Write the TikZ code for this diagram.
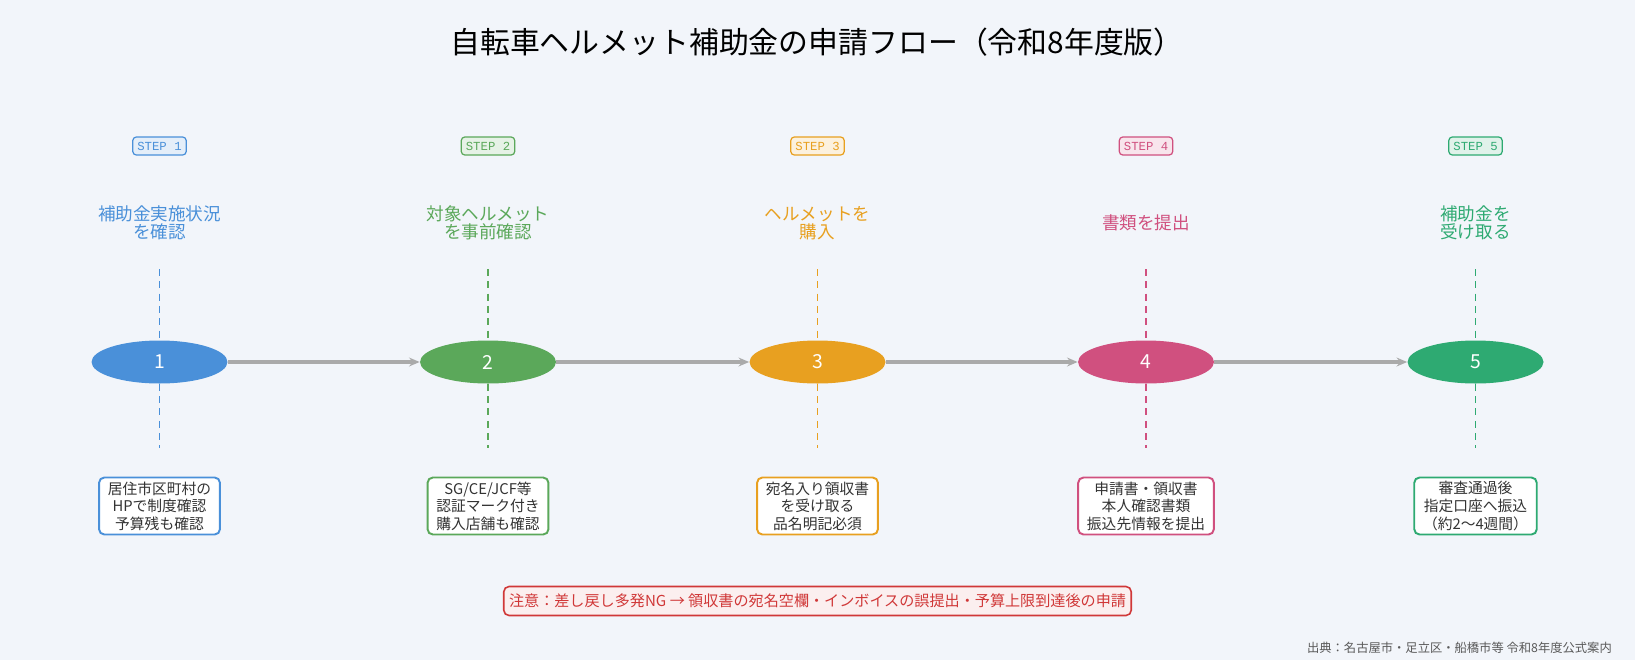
\documentclass[tikz,border=0pt]{standalone}
\usepackage{fontspec}
\setmainfont{Noto Sans CJK JP}
\newfontfamily\stepfont{Liberation Mono}
\usepackage{xcolor}
\definecolor{bgcol}{HTML}{F2F5FA}
\definecolor{stepblue}{HTML}{4A90D9}
\definecolor{stepgreen}{HTML}{5BA85A}
\definecolor{steporange}{HTML}{E8A020}
\definecolor{steppink}{HTML}{D0507F}
\definecolor{stepteal}{HTML}{2EAA72}
\definecolor{noteRed}{HTML}{D03838}
\definecolor{flowgray}{HTML}{AAAAAA}
\usetikzlibrary{
    arrows.meta,
    shapes.geometric,
    positioning
}
\tikzstyle{stepnode} = [
    ellipse,
    minimum width=2.72cm,
    minimum height=0.86cm,
    inner sep=0pt,
    text=white,
    font=\fontsize{11}{12}\selectfont
]
\tikzstyle{steptag} = [
    rectangle,
    rounded corners=2pt,
    line width=0.7pt,
    minimum height=0.36cm,
    inner xsep=2.6pt,
    inner ysep=0pt,
    font=\stepfont\fontsize{7}{8}\selectfont
]
\tikzstyle{steptitle} = [
    align=center,
    font=\fontsize{10}{10.3}\selectfont
]
\tikzstyle{detail} = [
    rectangle,
    rounded corners=3pt,
    line width=1.1pt,
    fill=white,
    align=center,
    minimum height=1.14cm,
    inner xsep=5pt,
    inner ysep=1pt,
    text=black!80,
    font=\fontsize{8.4}{10}\selectfont
]
\tikzstyle{guide} = [
    dashed,
    dash pattern=on 4pt off 3pt,
    line width=0.8pt
]
\tikzstyle{arrow} = [
    -{Stealth[length=6pt,width=5pt]},
    line width=1.8pt,
    draw=flowgray
]

\begin{document}
\begin{tikzpicture}[x=0.02cm, y=-0.02cm]
        % Canvas
        \fill[bgcol] (0,0) rectangle (1635,660);
        \useasboundingbox (0,0) rectangle (1635,660);

        % Title
        \node[font=\fontsize{17}{20}\selectfont] (title) at (817,42) {自転車ヘルメット補助金の申請フロー（令和8年度版）};

        % Steps
        \node[stepnode, fill=stepblue] (n1) at (159.5,362) {1};
        \node[stepnode, fill=stepgreen] (n2) at (488,362) {2};
        \node[stepnode, fill=steporange] (n3) at (817.5,362) {3};
        \node[stepnode, fill=steppink] (n4) at (1146,362) {4};
        \node[stepnode, fill=stepteal] (n5) at (1475.5,362) {5};

        % Tags
        \node[steptag, draw=stepblue, fill=stepblue!15, text=stepblue] (tag1) at (159.5,146) {STEP 1};
        \node[steptag, draw=stepgreen, fill=stepgreen!15, text=stepgreen] (tag2) at (488,146) {STEP 2};
        \node[steptag, draw=steporange, fill=steporange!15, text=steporange] (tag3) at (817.5,146) {STEP 3};
        \node[steptag, draw=steppink, fill=steppink!15, text=steppink] (tag4) at (1146,146) {STEP 4};
        \node[steptag, draw=stepteal, fill=stepteal!15, text=stepteal] (tag5) at (1475.5,146) {STEP 5};

        % Step titles
        \node[steptitle, text=stepblue] (head1) at (159.5,223) {補助金実施状況\\を確認};
        \node[steptitle, text=stepgreen] (head2) at (488,223) {対象ヘルメット\\を事前確認};
        \node[steptitle, text=steporange] (head3) at (817.5,223) {ヘルメットを\\購入};
        \node[steptitle, text=steppink] (head4) at (1146,223) {書類を提出};
        \node[steptitle, text=stepteal] (head5) at (1475.5,223) {補助金を\\受け取る};

        % Details
        \node[detail, draw=stepblue] (box1) at (159.5,506) {居住市区町村の\\HPで制度確認\\予算残も確認};
        \node[detail, draw=stepgreen] (box2) at (488,506) {SG/CE/JCF等\\認証マーク付き\\購入店舗も確認};
        \node[detail, draw=steporange] (box3) at (817.5,506) {宛名入り領収書\\を受け取る\\品名明記必須};
        \node[detail, draw=steppink] (box4) at (1146,506) {申請書・領収書\\本人確認書類\\振込先情報を提出};
        \node[detail, draw=stepteal] (box5) at (1475.5,506) {審査通過後\\指定口座へ振込\\（約2〜4週間）};

        % Guides
        \coordinate (up1) at (159.5,269);
        \coordinate (up2) at (488,269);
        \coordinate (up3) at (817.5,269);
        \coordinate (up4) at (1146,269);
        \coordinate (up5) at (1475.5,269);
        \coordinate (dn1) at (159.5,448);
        \coordinate (dn2) at (488,448);
        \coordinate (dn3) at (817.5,448);
        \coordinate (dn4) at (1146,448);
        \coordinate (dn5) at (1475.5,448);
        \draw[guide, draw=stepblue] (up1) -- (n1.north) (n1.south) -- (dn1);
        \draw[guide, draw=stepgreen] (up2) -- (n2.north) (n2.south) -- (dn2);
        \draw[guide, draw=steporange] (up3) -- (n3.north) (n3.south) -- (dn3);
        \draw[guide, draw=steppink] (up4) -- (n4.north) (n4.south) -- (dn4);
        \draw[guide, draw=stepteal] (up5) -- (n5.north) (n5.south) -- (dn5);

        % Arrows
        \draw[arrow] (n1) -- (n2);
        \draw[arrow] (n2) -- (n3);
        \draw[arrow] (n3) -- (n4);
        \draw[arrow] (n4) -- (n5);

        % Note and source
        \node[rectangle, rounded corners=3pt, draw=noteRed, fill=noteRed!8, line width=0.9pt, text=noteRed, minimum height=0.58cm, inner xsep=3pt, font=\fontsize{8.6}{10}\selectfont] (note) at (817.5,601) {注意：差し戻し多発NG → 領収書の宛名空欄・インボイスの誤提出・予算上限到達後の申請};
        \node[anchor=east, text=black!65, font=\fontsize{7}{8}\selectfont] (source) at (1618,648) {出典：名古屋市・足立区・船橋市等\ 令和8年度公式案内};
    \end{tikzpicture}
\end{document}
